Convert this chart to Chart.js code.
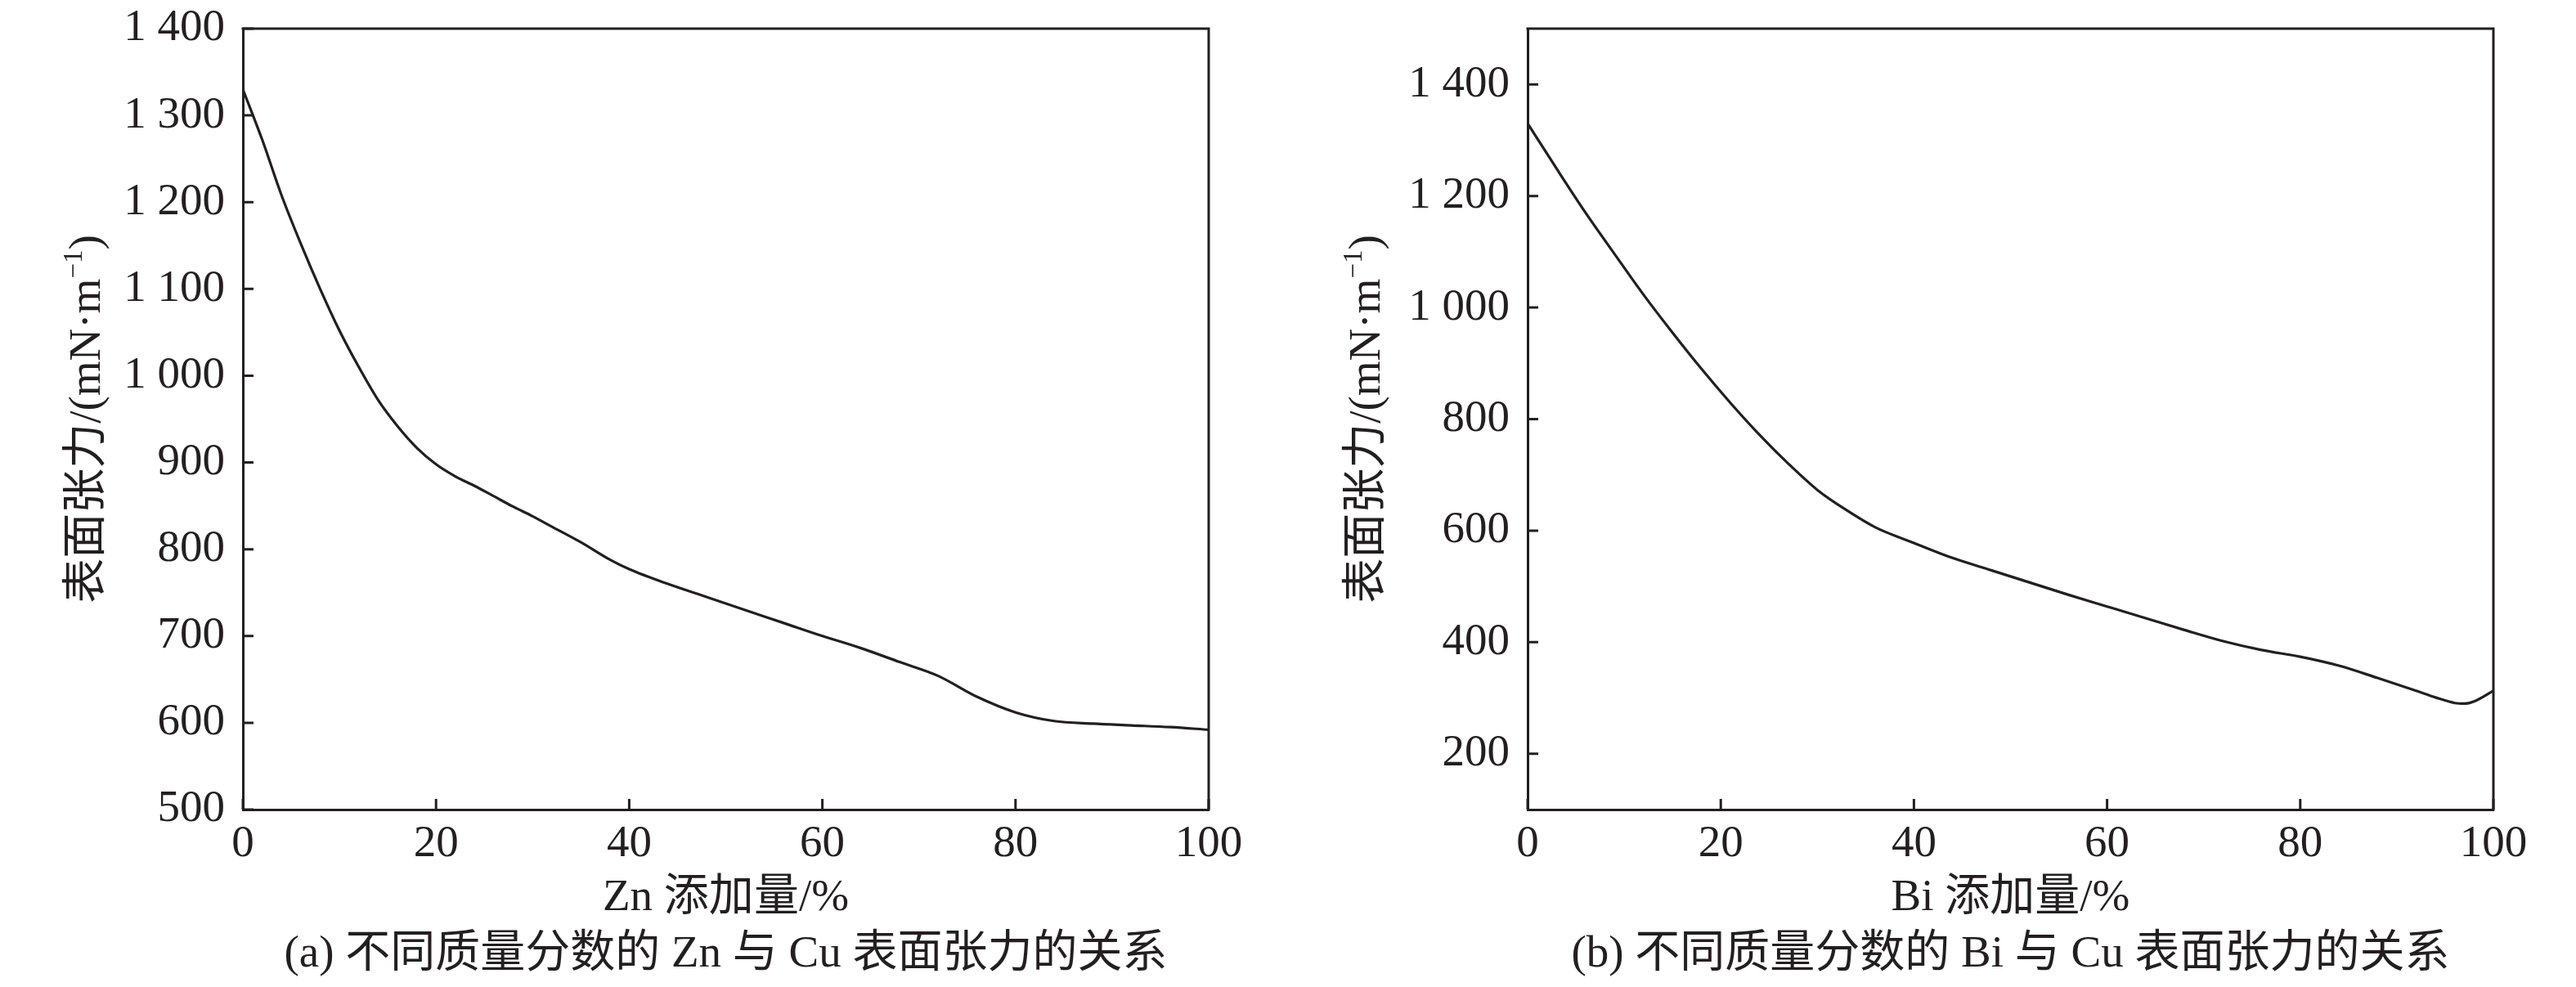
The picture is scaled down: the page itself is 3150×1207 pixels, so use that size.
<!DOCTYPE html>
<html>
<head>
<meta charset="utf-8">
<script src="https://cdn.jsdelivr.net/npm/chart.js@4.4.1/dist/chart.umd.min.js"></script>
<style>
  html, body { margin: 0; padding: 0; background: #fff; }
  body { width: 3150px; height: 1207px; position: relative; overflow: hidden; }
  canvas { position: absolute; top: 0; }
  #chartZn { left: 0; }
  #chartBi { left: 1575px; }
</style>
</head>
<body>
<canvas id="chartZn" width="1575" height="1207"></canvas>
<canvas id="chartBi" width="1575" height="1207"></canvas>
<script>
// --- data ---
const xTicks = [0, 20, 40, 60, 80, 100];

// (a) Zn addition vs surface tension
const znX = [0, 2, 4, 6, 8, 10, 12, 14, 16, 18, 20, 22, 24, 26, 28, 30, 32, 35, 38, 40, 44, 48, 52, 56, 60, 64, 68, 72, 76, 80, 84, 88, 92, 96, 100];
const znY = [1330, 1272, 1208, 1152, 1100, 1052, 1010, 972, 942, 917, 898, 884, 873, 861, 849, 838, 826, 808, 788, 777, 760, 745, 730, 715, 700, 686, 670, 654, 630, 612, 602, 599, 597, 595, 592];
const znTicks = [500, 600, 700, 800, 900, 1000, 1100, 1200, 1300, 1400];

// (b) Bi addition vs surface tension
const biX = [0, 3, 6, 9, 12, 15, 18, 21, 24, 27, 30, 33, 36, 40, 44, 48, 52, 56, 60, 64, 68, 72, 76, 80, 84, 88, 92, 94, 96, 97, 98, 100];
const biY = [1330, 1249, 1170, 1096, 1023, 955, 890, 829, 772, 720, 673, 637, 606, 578, 551, 529, 507, 485, 464, 443, 422, 402, 386, 374, 358, 336, 313, 301, 291, 290, 294, 313];
const biTicks = [200, 400, 600, 800, 1000, 1200, 1400];

const INK = '#231f20';
const FAMILY = '"Liberation Serif", "Noto Sans CJK SC", serif';
const FS = 55;

const fmt = v => {
  const s = String(v);
  return s.length > 3 ? s.slice(0, -3) + ' ' + s.slice(-3) : s;
};

// frame (top/right), inward tick marks and the y-axis title with superscript
const frameTicks = {
  id: 'frameTicks',
  afterDraw(chart, args, opts) {
    const { ctx, chartArea: a, scales: { x, y } } = chart;
    ctx.save();
    ctx.strokeStyle = INK;
    ctx.lineWidth = 3;
    ctx.lineCap = 'square';
    ctx.beginPath();
    ctx.moveTo(a.left, a.top);
    ctx.lineTo(a.right, a.top);
    ctx.lineTo(a.right, a.bottom);
    ctx.stroke();
    ctx.lineCap = 'butt';
    ctx.beginPath();
    x.ticks.forEach(t => {
      const px = x.getPixelForValue(t.value);
      ctx.moveTo(px, a.bottom);
      ctx.lineTo(px, a.bottom - 13);
    });
    y.ticks.forEach(t => {
      const py = y.getPixelForValue(t.value);
      ctx.moveTo(a.left, py);
      ctx.lineTo(a.left + 13, py);
    });
    ctx.stroke();

    // y title: 表面张力/(mN·m⁻¹)
    const main = '表面张力/(mN·m';
    const sup = '\u22121';
    const tail = ')';
    const big = FS + 'px ' + FAMILY;
    const small = Math.round(FS * 0.6) + 'px ' + FAMILY;
    ctx.font = big;
    const w1 = ctx.measureText(main).width;
    const w3 = ctx.measureText(tail).width;
    ctx.font = small;
    const w2 = ctx.measureText(sup).width;
    const total = w1 + w2 + w3;
    ctx.translate(a.left - opts.titleGap, (a.top + a.bottom) / 2);
    ctx.rotate(-Math.PI / 2);
    ctx.fillStyle = INK;
    ctx.textBaseline = 'middle';
    ctx.textAlign = 'left';
    let cx = -total / 2;
    ctx.font = big;
    ctx.fillText(main, cx, 0);
    cx += w1;
    ctx.font = small;
    ctx.fillText(sup, cx, -FS * 0.3);
    cx += w2;
    ctx.font = big;
    ctx.fillText(tail, cx, 0);
    ctx.restore();
  }
};

function makeChart(id, xs, ys, yMin, yMax, yTicks, xLabel, caption, yWidth, padRight, titleGap) {
  return new Chart(document.getElementById(id), {
    type: 'line',
    data: {
      datasets: [{
        data: xs.map((v, i) => ({ x: v, y: ys[i] })),
        borderColor: INK,
        borderWidth: 3.2,
        pointRadius: 0,
        cubicInterpolationMode: 'monotone',
        fill: false
      }]
    },
    options: {
      responsive: false,
      animation: false,
      devicePixelRatio: 1,
      layout: { padding: { left: 0, top: 35, right: padRight, bottom: 12 } },
      plugins: {
        legend: { display: false },
        tooltip: { enabled: false },
        title: {
          display: true,
          position: 'bottom',
          fullSize: false,
          text: caption,
          color: INK,
          padding: 0,
          font: { family: FAMILY, size: FS, weight: 'normal', lineHeight: 1 }
        },
        frameTicks: { titleGap: titleGap }
      },
      scales: {
        x: {
          type: 'linear',
          min: 0,
          max: 100,
          afterBuildTicks: s => { s.ticks = xTicks.map(v => ({ value: v })); },
          afterFit: s => { s.height = 150; },
          grid: { display: false, drawTicks: false },
          border: { display: true, color: INK, width: 3 },
          ticks: {
            color: INK,
            padding: 15,
            maxRotation: 0,
            font: { family: FAMILY, size: FS, lineHeight: 1 }
          },
          title: {
            display: true,
            text: xLabel,
            color: INK,
            padding: { top: 0, bottom: 14 },
            font: { family: FAMILY, size: FS, lineHeight: 1 }
          }
        },
        y: {
          type: 'linear',
          min: yMin,
          max: yMax,
          afterBuildTicks: s => { s.ticks = yTicks.map(v => ({ value: v })); },
          // fixed width, and no label overhang pushing the plot area down
          afterFit: s => { s.width = yWidth; s.paddingTop = 0; s.paddingBottom = 0; },
          grid: { display: false, drawTicks: false },
          border: { display: true, color: INK, width: 3 },
          ticks: {
            color: INK,
            padding: 22,
            callback: v => fmt(v),
            font: { family: FAMILY, size: FS, lineHeight: 1 }
          }
        }
      }
    },
    plugins: [frameTicks]
  });
}

makeChart('chartZn', znX, znY, 500, 1400, znTicks, 'Zn 添加量/%',
  '(a) 不同质量分数的 Zn 与 Cu 表面张力的关系', 297, 97, 189);
makeChart('chartBi', biX, biY, 100, 1500, biTicks, 'Bi 添加量/%',
  '(b) 不同质量分数的 Bi 与 Cu 表面张力的关系', 293, 101, 195);
</script>
</body>
</html>
